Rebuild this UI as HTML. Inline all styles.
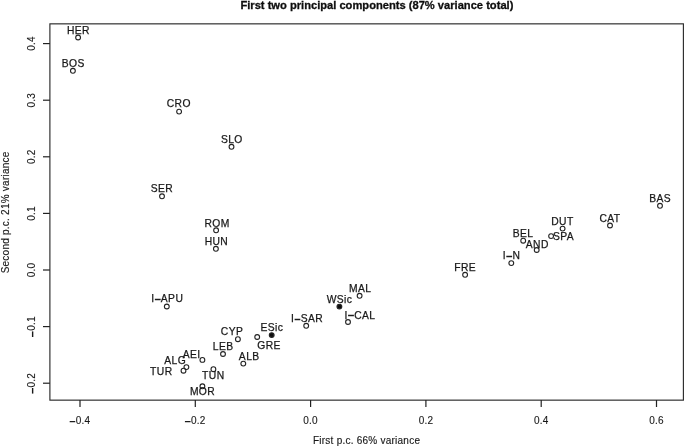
<!DOCTYPE html>
<html><head><meta charset="utf-8"><style>
html,body{margin:0;padding:0;background:#fff;}
svg{display:block;}
.t{font-family:"Liberation Sans",sans-serif;font-size:10.3px;letter-spacing:0.4px;fill:#1a1a1a;stroke:#1a1a1a;stroke-width:0.25px;}
.xl{font-family:"Liberation Sans",sans-serif;font-size:10.5px;fill:#1a1a1a;stroke:#1a1a1a;stroke-width:0.25px;}
.yl{font-family:"Liberation Sans",sans-serif;font-size:10px;letter-spacing:0.24px;fill:#1a1a1a;stroke:#1a1a1a;stroke-width:0.15px;}
.tk{font-family:"Liberation Sans",sans-serif;font-size:10px;letter-spacing:0.2px;fill:#1a1a1a;stroke:#1a1a1a;stroke-width:0.12px;}
.m{stroke-width:0.7px;}
.title{font-family:"Liberation Sans",sans-serif;font-size:11.15px;font-weight:bold;fill:#111;stroke:#111;stroke-width:0.3px;}
</style></head><body>
<svg width="685" height="447" viewBox="0 0 685 447">
<defs><filter id="bl" x="0" y="0" width="1" height="1"><feGaussianBlur stdDeviation="0.4"/></filter></defs>
<rect width="685" height="447" fill="#fff"/>
<g filter="url(#bl)">
<rect x="49.9" y="23.85" width="633.5" height="376.3" fill="none" stroke="#2a2a2a" stroke-width="1.15"/>
<line x1="80.00" y1="400" x2="80.00" y2="407" stroke="#222" stroke-width="1.2"/>
<text x="80.00" y="423.6" text-anchor="middle" class="tk"><tspan dy="0.9" class="m">−</tspan><tspan dy="-0.9">0.4</tspan></text>
<line x1="195.30" y1="400" x2="195.30" y2="407" stroke="#222" stroke-width="1.2"/>
<text x="195.30" y="423.6" text-anchor="middle" class="tk"><tspan dy="0.9" class="m">−</tspan><tspan dy="-0.9">0.2</tspan></text>
<line x1="310.60" y1="400" x2="310.60" y2="407" stroke="#222" stroke-width="1.2"/>
<text x="310.60" y="423.6" text-anchor="middle" class="tk">0.0</text>
<line x1="425.90" y1="400" x2="425.90" y2="407" stroke="#222" stroke-width="1.2"/>
<text x="425.90" y="423.6" text-anchor="middle" class="tk">0.2</text>
<line x1="541.20" y1="400" x2="541.20" y2="407" stroke="#222" stroke-width="1.2"/>
<text x="541.20" y="423.6" text-anchor="middle" class="tk">0.4</text>
<line x1="656.50" y1="400" x2="656.50" y2="407" stroke="#222" stroke-width="1.2"/>
<text x="656.50" y="423.6" text-anchor="middle" class="tk">0.6</text>
<line x1="43" y1="383.20" x2="49.9" y2="383.20" stroke="#222" stroke-width="1.2"/>
<text transform="translate(34.9 383.20) rotate(-90)" x="0" y="0" text-anchor="middle" class="tk"><tspan dy="0.9" class="m">−</tspan><tspan dy="-0.9">0.2</tspan></text>
<line x1="43" y1="326.60" x2="49.9" y2="326.60" stroke="#222" stroke-width="1.2"/>
<text transform="translate(34.9 326.60) rotate(-90)" x="0" y="0" text-anchor="middle" class="tk"><tspan dy="0.9" class="m">−</tspan><tspan dy="-0.9">0.1</tspan></text>
<line x1="43" y1="270.00" x2="49.9" y2="270.00" stroke="#222" stroke-width="1.2"/>
<text transform="translate(34.9 270.00) rotate(-90)" x="0" y="0" text-anchor="middle" class="tk">0.0</text>
<line x1="43" y1="213.40" x2="49.9" y2="213.40" stroke="#222" stroke-width="1.2"/>
<text transform="translate(34.9 213.40) rotate(-90)" x="0" y="0" text-anchor="middle" class="tk">0.1</text>
<line x1="43" y1="156.80" x2="49.9" y2="156.80" stroke="#222" stroke-width="1.2"/>
<text transform="translate(34.9 156.80) rotate(-90)" x="0" y="0" text-anchor="middle" class="tk">0.2</text>
<line x1="43" y1="100.20" x2="49.9" y2="100.20" stroke="#222" stroke-width="1.2"/>
<text transform="translate(34.9 100.20) rotate(-90)" x="0" y="0" text-anchor="middle" class="tk">0.3</text>
<line x1="43" y1="43.60" x2="49.9" y2="43.60" stroke="#222" stroke-width="1.2"/>
<text transform="translate(34.9 43.60) rotate(-90)" x="0" y="0" text-anchor="middle" class="tk">0.4</text>
<circle cx="78.1" cy="37.5" r="2.4" fill="none" stroke="#222" stroke-width="1.1"/>
<text x="78.40" y="33.80" text-anchor="middle" class="t">HER</text>
<circle cx="72.9" cy="70.8" r="2.4" fill="none" stroke="#222" stroke-width="1.1"/>
<text x="73.30" y="66.90" text-anchor="middle" class="t">BOS</text>
<circle cx="179.1" cy="111.6" r="2.4" fill="none" stroke="#222" stroke-width="1.1"/>
<text x="178.80" y="107.10" text-anchor="middle" class="t">CRO</text>
<circle cx="231.5" cy="146.8" r="2.4" fill="none" stroke="#222" stroke-width="1.1"/>
<text x="231.80" y="143.30" text-anchor="middle" class="t">SLO</text>
<circle cx="162.0" cy="196.3" r="2.4" fill="none" stroke="#222" stroke-width="1.1"/>
<text x="162.00" y="192.30" text-anchor="middle" class="t">SER</text>
<circle cx="216.1" cy="230.3" r="2.4" fill="none" stroke="#222" stroke-width="1.1"/>
<text x="217.10" y="226.60" text-anchor="middle" class="t">ROM</text>
<circle cx="215.9" cy="248.8" r="2.4" fill="none" stroke="#222" stroke-width="1.1"/>
<text x="216.40" y="244.90" text-anchor="middle" class="t">HUN</text>
<circle cx="166.8" cy="306.5" r="2.4" fill="none" stroke="#222" stroke-width="1.1"/>
<text x="167.20" y="302.30" text-anchor="middle" class="t">I<tspan dy="0.9" class="m">−</tspan><tspan dy="-0.9">APU</tspan></text>
<circle cx="660.0" cy="205.8" r="2.4" fill="none" stroke="#222" stroke-width="1.1"/>
<text x="660.20" y="201.90" text-anchor="middle" class="t">BAS</text>
<circle cx="610.0" cy="225.5" r="2.4" fill="none" stroke="#222" stroke-width="1.1"/>
<text x="609.90" y="222.00" text-anchor="middle" class="t">CAT</text>
<circle cx="562.6" cy="228.6" r="2.4" fill="none" stroke="#222" stroke-width="1.1"/>
<text x="562.40" y="224.50" text-anchor="middle" class="t">DUT</text>
<circle cx="551.1" cy="236.1" r="2.4" fill="none" stroke="#222" stroke-width="1.1"/>
<text x="563.40" y="240.00" text-anchor="middle" class="t">SPA</text>
<circle cx="523.2" cy="240.7" r="2.4" fill="none" stroke="#222" stroke-width="1.1"/>
<text x="523.10" y="236.90" text-anchor="middle" class="t">BEL</text>
<circle cx="536.7" cy="250.0" r="2.4" fill="none" stroke="#222" stroke-width="1.1"/>
<text x="537.30" y="248.20" text-anchor="middle" class="t">AND</text>
<circle cx="511.3" cy="263.1" r="2.4" fill="none" stroke="#222" stroke-width="1.1"/>
<text x="511.60" y="258.60" text-anchor="middle" class="t">I<tspan dy="0.9" class="m">−</tspan><tspan dy="-0.9">N</tspan></text>
<circle cx="465.1" cy="274.8" r="2.4" fill="none" stroke="#222" stroke-width="1.1"/>
<text x="465.20" y="271.00" text-anchor="middle" class="t">FRE</text>
<circle cx="359.6" cy="295.8" r="2.4" fill="none" stroke="#222" stroke-width="1.1"/>
<text x="360.20" y="292.30" text-anchor="middle" class="t">MAL</text>
<circle cx="339.4" cy="306.6" r="2.4" fill="#111" stroke="#222" stroke-width="1.1"/>
<text x="339.50" y="303.10" text-anchor="middle" class="t">WSic</text>
<circle cx="348.0" cy="322.0" r="2.4" fill="none" stroke="#222" stroke-width="1.1"/>
<text x="360.00" y="318.50" text-anchor="middle" class="t">I<tspan dy="0.9" class="m">−</tspan><tspan dy="-0.9">CAL</tspan></text>
<circle cx="306.2" cy="325.8" r="2.4" fill="none" stroke="#222" stroke-width="1.1"/>
<text x="307.00" y="321.60" text-anchor="middle" class="t">I<tspan dy="0.9" class="m">−</tspan><tspan dy="-0.9">SAR</tspan></text>
<circle cx="237.9" cy="339.2" r="2.4" fill="none" stroke="#222" stroke-width="1.1"/>
<text x="232.00" y="335.40" text-anchor="middle" class="t">CYP</text>
<circle cx="257.2" cy="337.0" r="2.4" fill="none" stroke="#222" stroke-width="1.1"/>
<text x="269.10" y="349.20" text-anchor="middle" class="t">GRE</text>
<circle cx="271.7" cy="335.1" r="2.4" fill="#111" stroke="#222" stroke-width="1.1"/>
<text x="271.95" y="331.30" text-anchor="middle" class="t">ESic</text>
<circle cx="243.3" cy="363.6" r="2.4" fill="none" stroke="#222" stroke-width="1.1"/>
<text x="249.20" y="360.10" text-anchor="middle" class="t">ALB</text>
<circle cx="223.0" cy="354.0" r="2.4" fill="none" stroke="#222" stroke-width="1.1"/>
<text x="223.10" y="350.20" text-anchor="middle" class="t">LEB</text>
<circle cx="202.4" cy="359.9" r="2.4" fill="none" stroke="#222" stroke-width="1.1"/>
<text x="191.70" y="358.00" text-anchor="middle" class="t">AEI</text>
<circle cx="186.4" cy="367.1" r="2.4" fill="none" stroke="#222" stroke-width="1.1"/>
<text x="175.20" y="363.60" text-anchor="middle" class="t">ALG</text>
<circle cx="183.5" cy="370.7" r="2.4" fill="none" stroke="#222" stroke-width="1.1"/>
<text x="161.30" y="374.50" text-anchor="middle" class="t">TUR</text>
<circle cx="213.4" cy="369.2" r="2.4" fill="none" stroke="#222" stroke-width="1.1"/>
<text x="213.30" y="378.60" text-anchor="middle" class="t">TUN</text>
<circle cx="202.4" cy="386.3" r="2.4" fill="none" stroke="#222" stroke-width="1.1"/>
<text x="202.50" y="395.30" text-anchor="middle" class="t">MOR</text>
<text x="376.9" y="9.1" text-anchor="middle" class="title">First two principal components (87% variance total)</text>
<text x="366.6" y="443.6" text-anchor="middle" class="yl">First p.c. 66% variance</text>
<text transform="translate(9.0 212.4) rotate(-90)" text-anchor="middle" class="yl">Second p.c. 21% variance</text>
</g>
</svg>
</body></html>
